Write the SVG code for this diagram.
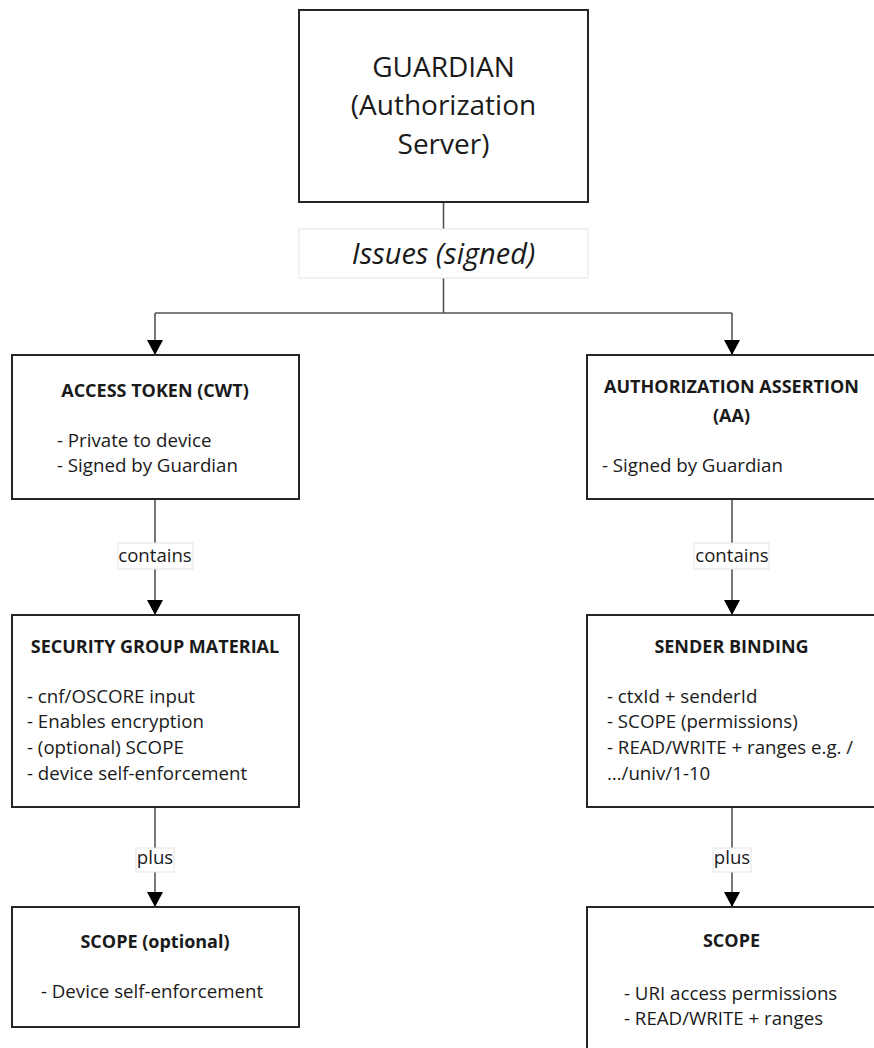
<svg xmlns="http://www.w3.org/2000/svg" width="874" height="1048" viewBox="0 0 874 1048">
<style>
  .box { fill: #ffffff; stroke: #262626; stroke-width: 2; }
  .lbl { fill: #ffffff; stroke: #e3e3e3; stroke-width: 1; }
  .edge { fill: none; stroke: #555555; stroke-width: 1.6; }
  text { font-family: "Open Sans", "Noto Sans", sans-serif; fill: #1a1a1a; }
  .big { font-size: 28px; text-anchor: middle; }
  .it { font-size: 29px; font-style: italic; text-anchor: middle; }
  .title { font-size: 18px; font-weight: bold; text-anchor: middle; }
  .body { font-size: 18.7px; }
  .mid { text-anchor: middle; }
  .edgelbl { font-size: 18.6px; text-anchor: middle; }
</style>
<defs>
  <marker id="arrow" viewBox="0 0 15 16" refX="15" refY="8" markerWidth="15" markerHeight="16" markerUnits="userSpaceOnUse" orient="auto">
    <path d="M0,0 L15,8 L0,16 z" fill="#000000"/>
  </marker>
</defs>

<g id="connectors">
  <path class="edge" d="M443.5,202 V313"/>
  <path class="edge" d="M155,313 H732"/>
  <path class="edge" d="M155,313 V355" marker-end="url(#arrow)"/>
  <path class="edge" d="M732,313 V355" marker-end="url(#arrow)"/>
  <path class="edge" d="M155,499 V615" marker-end="url(#arrow)"/>
  <path class="edge" d="M732,499 V615" marker-end="url(#arrow)"/>
  <path class="edge" d="M155,807 V907" marker-end="url(#arrow)"/>
  <path class="edge" d="M732,807 V907" marker-end="url(#arrow)"/>
  <g id="lbl-issues">
    <rect class="lbl" x="299" y="229" width="289" height="49"/>
    <text class="it" x="443.5" y="264">Issues (signed)</text>
  </g>
  <g id="lbl-contains-left">
    <rect class="lbl" x="118" y="543" width="75" height="26"/>
    <text class="edgelbl" x="155" y="562">contains</text>
  </g>
  <g id="lbl-contains-right">
    <rect class="lbl" x="694" y="543" width="75" height="26"/>
    <text class="edgelbl" x="732" y="562">contains</text>
  </g>
  <g id="lbl-plus-left">
    <rect class="lbl" x="136" y="848" width="38" height="24"/>
    <text class="edgelbl" x="155" y="864">plus</text>
  </g>
  <g id="lbl-plus-right">
    <rect class="lbl" x="713" y="848" width="38" height="24"/>
    <text class="edgelbl" x="732" y="864">plus</text>
  </g>
</g>

<g id="guardian">
  <rect class="box" x="299" y="10" width="289" height="192"/>
  <text class="big" x="443.5" y="77">GUARDIAN</text>
  <text class="big" x="443.5" y="115">(Authorization</text>
  <text class="big" x="443.5" y="154">Server)</text>
</g>

<g id="access-token">
  <rect class="box" x="12" y="355" width="287" height="144"/>
  <text class="title" x="155" y="397">ACCESS TOKEN (CWT)</text>
  <text class="body" x="57" y="447">- Private to device</text>
  <text class="body" x="57" y="472">- Signed by Guardian</text>
</g>

<g id="authorization-assertion">
  <rect class="box" x="587" y="355" width="290" height="144"/>
  <text class="title" x="731.5" y="393">AUTHORIZATION ASSERTION</text>
  <text class="title" x="731.5" y="422">(AA)</text>
  <text class="body" x="602" y="472">- Signed by Guardian</text>
</g>

<g id="security-group-material">
  <rect class="box" x="12" y="615" width="287" height="192"/>
  <text class="title" x="155" y="653">SECURITY GROUP MATERIAL</text>
  <text class="body" x="27" y="703">- cnf/OSCORE input</text>
  <text class="body" x="27" y="728">- Enables encryption</text>
  <text class="body" x="27" y="754">- (optional) SCOPE</text>
  <text class="body" x="27" y="780">- device self-enforcement</text>
</g>

<g id="sender-binding">
  <rect class="box" x="587" y="615" width="290" height="192"/>
  <text class="title" x="731.5" y="653">SENDER BINDING</text>
  <text class="body" x="607" y="703">- ctxId + senderId</text>
  <text class="body" x="607" y="728">- SCOPE (permissions)</text>
  <text class="body" x="607" y="754">- READ/WRITE + ranges e.g. /</text>
  <text class="body" x="607" y="780">…/univ/1-10</text>
</g>

<g id="scope-optional">
  <rect class="box" x="12" y="907" width="287" height="120"/>
  <text class="title" x="155" y="948">SCOPE (optional)</text>
  <text class="body mid" x="152" y="998">- Device self-enforcement</text>
</g>

<g id="scope">
  <rect class="box" x="587" y="907" width="290" height="160"/>
  <text class="title" x="731.5" y="947">SCOPE</text>
  <text class="body" x="624" y="1000">- URI access permissions</text>
  <text class="body" x="624" y="1025">- READ/WRITE + ranges</text>
</g>
</svg>
